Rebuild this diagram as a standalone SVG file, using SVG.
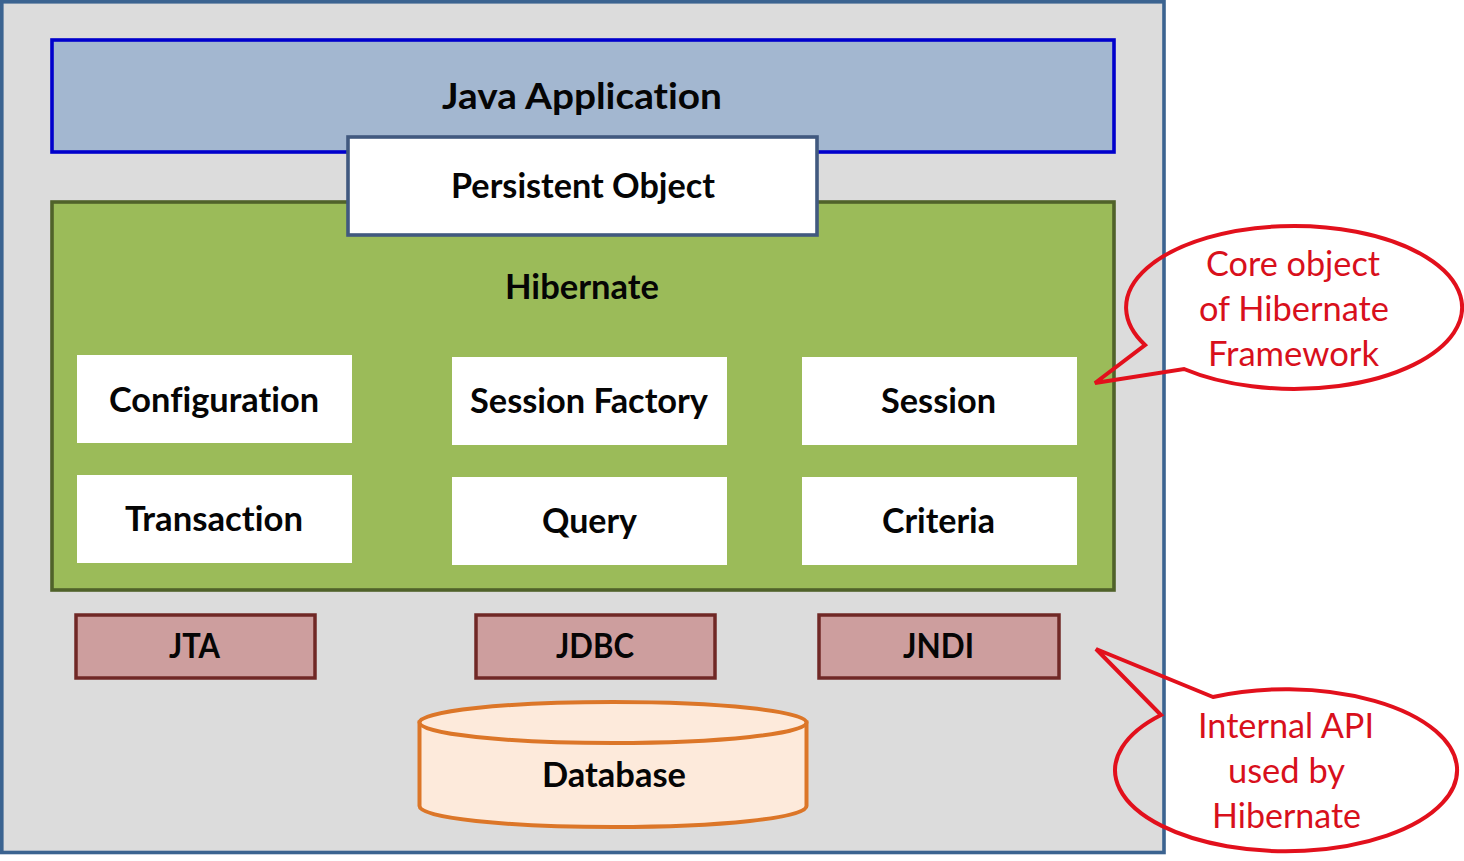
<svg xmlns="http://www.w3.org/2000/svg" width="1464" height="861" viewBox="0 0 1464 861">
<style>
text{font-family:"Lato","Open Sans","Liberation Sans",sans-serif;font-weight:700;fill:#050505;font-size:34px;font-variant-ligatures:none}
.big{font-size:36px}
.red{font-weight:400;fill:#d8101c;font-size:34px}
.box{fill:#fff}
.api{fill:#cd9e9e;stroke:#702826;stroke-width:3.500}
.call{fill:none;stroke:#e2101c;stroke-width:4;stroke-linejoin:miter}
.db{fill:#fdeadb;stroke:#dc7628;stroke-width:4}
</style>
<rect width="1464" height="861" fill="#fff"/>
<g id="container"><rect x="1.800" y="1.800" width="1162.200" height="850.700" fill="#dcdcdc" stroke="#3b6390" stroke-width="3.600"/></g>
<g id="java-application"><rect x="52" y="40" width="1062" height="112" fill="#a3b7d0" stroke="#0000cc" stroke-width="3.600"/>
<text class="big" x="442" y="109" textLength="280" lengthAdjust="spacingAndGlyphs">Java Application</text></g>
<g id="hibernate"><rect x="52" y="202" width="1062" height="388" fill="#9bbb59" stroke="#50622a" stroke-width="3.600"/>
<text x="505" y="299" textLength="154" lengthAdjust="spacingAndGlyphs">Hibernate</text></g>
<g id="persistent-object"><rect x="348" y="137" width="469" height="98" fill="#fff" stroke="#41597f" stroke-width="3.600"/>
<text x="451" y="198" textLength="264" lengthAdjust="spacingAndGlyphs">Persistent Object</text></g>
<g id="configuration"><rect class="box" x="77" y="355" width="275" height="88"/><text x="109" y="412" textLength="210" lengthAdjust="spacingAndGlyphs">Configuration</text></g>
<g id="session-factory"><rect class="box" x="452" y="357" width="275" height="88"/><text x="470" y="413" textLength="238" lengthAdjust="spacingAndGlyphs">Session Factory</text></g>
<g id="session"><rect class="box" x="802" y="357" width="275" height="88"/><text x="881" y="413" textLength="115" lengthAdjust="spacingAndGlyphs">Session</text></g>
<g id="transaction"><rect class="box" x="77" y="475" width="275" height="88"/><text x="125" y="531" textLength="178" lengthAdjust="spacingAndGlyphs">Transaction</text></g>
<g id="query"><rect class="box" x="452" y="477" width="275" height="88"/><text x="542" y="533" textLength="95" lengthAdjust="spacingAndGlyphs">Query</text></g>
<g id="criteria"><rect class="box" x="802" y="477" width="275" height="88"/><text x="882" y="533" textLength="113" lengthAdjust="spacingAndGlyphs">Criteria</text></g>
<g id="jta"><rect class="api" x="76" y="615" width="239" height="63"/><text x="169" y="658" textLength="51" lengthAdjust="spacingAndGlyphs">JTA</text></g>
<g id="jdbc"><rect class="api" x="476" y="615" width="239" height="63"/><text x="556" y="658" textLength="78" lengthAdjust="spacingAndGlyphs">JDBC</text></g>
<g id="jndi"><rect class="api" x="819" y="615" width="240" height="63"/><text x="903" y="658" textLength="71" lengthAdjust="spacingAndGlyphs">JNDI</text></g>
<g id="database">
<path class="db" d="M419.500 722.500V806C419.500 818 506 827 613 827S806.500 818 806.500 806V722.500Z"/>
<ellipse class="db" cx="613" cy="722.500" rx="193.500" ry="20.500"/>
<text x="542" y="787" textLength="144" lengthAdjust="spacingAndGlyphs">Database</text></g>
<g id="callout-core">
<path class="call" d="M1184 369A168 81.500 0 1 0 1145 345L1095 383Z"/>
<text class="red" x="1206" y="276" textLength="174" lengthAdjust="spacingAndGlyphs">Core object</text>
<text class="red" x="1199" y="321" textLength="190" lengthAdjust="spacingAndGlyphs">of Hibernate</text>
<text class="red" x="1208" y="366" textLength="171" lengthAdjust="spacingAndGlyphs">Framework</text></g>
<g id="callout-api">
<path class="call" d="M1213 697A171 81 0 1 1 1161 715L1096 649Z"/>
<text class="red" x="1198" y="738" textLength="176" lengthAdjust="spacingAndGlyphs">Internal API</text>
<text class="red" x="1228" y="783" textLength="117" lengthAdjust="spacingAndGlyphs">used by</text>
<text class="red" x="1212" y="828" textLength="149" lengthAdjust="spacingAndGlyphs">Hibernate</text></g>
</svg>
